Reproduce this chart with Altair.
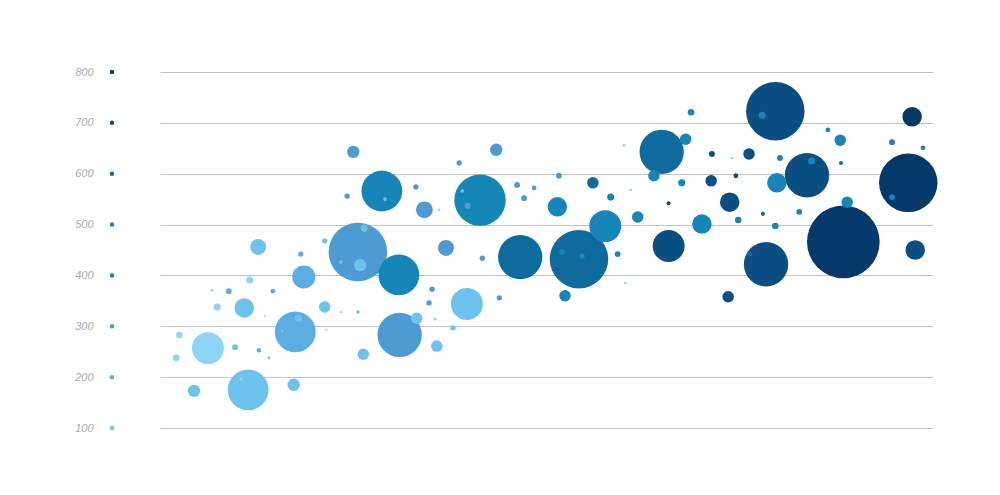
import altair as alt
import pandas as pd

# Bubble data (x in arbitrary units 0-100, y in axis units, size value, shade group 1-8)
x_vals = [6.2, 11.6, 2.5, 2.1, 7.4, 6.7, 10.5, 36.1, 60.0, 74.0, 60.9, 60.2, 35.6, 15.8,
          11.4, 4.4, 17.3, 12.7, 10.9, 21.3, 9.7, 39.7, 33.2, 35.8, 26.3, 37.9, 25.9, 26.4,
          17.9, 23.4, 21.3, 23.4, 25.6, 13.6, 21.5, 14.1, 29.1, 39.1,
          17.5, 18.6, 12.8, 8.9, 14.6, 18.2,
          25.6, 31.0, 37.0, 34.2, 25.0, 43.5, 38.7, 24.2, 33.1, 41.7, 35.2, 34.8, 43.9, 51.6,
          46.2, 48.4, 47.1, 39.8,
          28.7, 41.4, 30.9, 57.6, 51.4, 70.1, 79.8, 68.0, 63.9, 61.8, 52.4, 88.0, 88.9, 68.7,
          58.3, 67.5, 59.2, 74.8, 77.9, 86.4, 94.7, 98.7, 80.2, 84.3, 94.7, 82.7, 79.6, 52.0, 54.6,
          46.6, 54.2, 64.9, 56.0, 78.0, 88.1, 76.3,
          65.8, 79.6, 83.7, 78.4, 73.7, 97.7, 76.2, 71.3, 73.5, 71.4, 74.5, 65.8,
          88.4, 96.8, 97.3]
y_vals = [257, 391, 283, 238, 338, 371, 196, 529, 656, 631, 568, 385, 314, 291,
          175, 173, 185, 456, 336, 338, 259, 344, 316, 261, 245, 297, 420, 493,
          316, 426, 468, 328, 328, 320, 293, 238, 550, 566,
          289, 397, 253, 369, 369, 442,
          446, 283, 454, 529, 643, 647, 621, 556, 574, 434, 373, 346, 356, 596,
          578, 572, 552, 537,
          566, 548, 401, 497, 535, 501, 582, 668, 596, 515, 360, 666, 544, 721,
          554, 582, 442, 509, 715, 686, 662, 651, 631, 625, 554, 525, 497, 446, 438,
          436, 432, 643, 582, 521, 621, 442,
          458, 723, 597, 422, 544, 450, 639, 586, 358, 639, 596, 542,
          466, 582, 712]
size_vals = [19.3, 0.95, 0.81, 0.81, 0.95, 0.13, 0.13, 0.13, 0.13, 0.13, 0.13, 0.13, 0.13, 0.06,
             31.5, 2.9, 2.9, 4.8, 7.2, 2.5, 0.65, 19.3, 2.5, 2.5, 2.5, 0.54, 2.9, 0.95,
             0.95, 0.24, 0.54, 0.06, 0.24, 0.06, 0.06, 0.13, 0.24, 0.24,
             31.5, 10.1, 0.37, 0.65, 0.43, 0.54,
             64.8, 37.2, 4.8, 5.4, 2.9, 2.9, 0.54, 0.54, 0.54, 0.54, 0.54, 0.54, 0.54, 0.65,
             0.65, 0.43, 0.65, 0.73,
             31.5, 50.0, 31.5, 19.3, 7.2, 7.2, 7.2, 2.5, 2.5, 2.5, 2.5, 2.5, 2.5, 0.81,
             0.95, 0.95, 0.65, 0.81, 0.95, 0.43, 0.65, 0.43, 0.65, 0.95, 0.65, 0.65, 0.81, 0.54, 0.54,
             37.2, 64.8, 37.2, 2.5, 0.31, 0.31, 0.54,
             19.3, 64.8, 37.2, 37.2, 7.2, 7.2, 2.5, 2.5, 2.5, 0.65, 0.43, 0.31,
             100.0, 64.8, 7.2]
shade_vals = [1] * 14 + [2] * 24 + [3] * 6 + [4] * 18 + [5] * 29 + [6] * 7 + [7] * 12 + [8] * 3

tick_values = [100, 200, 300, 400, 500, 600, 700, 800]
tick_shades = [2, 3, 4, 5, 5, 6, 7, 8]

shade_domain = [1, 2, 3, 4, 5, 6, 7, 8]
shade_colors = ["#8dd5f5", "#6cc3ee", "#5aaee2", "#4e9bd4",
                "#1686b8", "#0f6b9e", "#0b4e82", "#053969"]

bubbles = pd.DataFrame({"x": x_vals, "y": y_vals, "s": size_vals, "g": shade_vals})
bubbles = bubbles.sort_values("s", ascending=False).reset_index(drop=True)
ticks = pd.DataFrame({"y": tick_values, "g": tick_shades})

color_scale = alt.Scale(domain=shade_domain, range=shade_colors)
y_scale = alt.Scale(domain=[100, 800], nice=False, zero=False)

bubble_layer = alt.Chart(bubbles).mark_circle(opacity=1).encode(
    x=alt.X("x:Q", scale=alt.Scale(domain=[0, 100], nice=False, zero=False), axis=None),
    y=alt.Y("y:Q", scale=y_scale, axis=alt.Axis(
        values=tick_values, grid=True, gridColor="#c2c2c2", gridWidth=1,
        domain=False, ticks=False, labelPadding=67, labelFontSize=11,
        labelFont="Liberation Sans", labelFontStyle="italic", labelColor="#ababab",
        title=None)),
    size=alt.Size("s:Q", scale=alt.Scale(type="linear", domain=[0, 100], range=[0, 5281], zero=True),
                  legend=None),
    color=alt.Color("g:O", scale=color_scale, legend=None),
    order=alt.Order("s:Q", sort="descending"),
)

tick_dots = alt.Chart(ticks).mark_circle(opacity=1, size=20).encode(
    x=alt.value(-48),
    y=alt.Y("y:Q", scale=y_scale),
    color=alt.Color("g:O", scale=color_scale, legend=None),
)

chart = alt.layer(bubble_layer, tick_dots).properties(
    width=773, height=356,
    padding={"left": 152, "top": 64, "right": 59, "bottom": 59},
    autosize=alt.AutoSizeParams(type="none"),
    background="white",
).configure_view(stroke=None)

chart.save("out.html", embed_options={"renderer": "svg", "actions": False})
